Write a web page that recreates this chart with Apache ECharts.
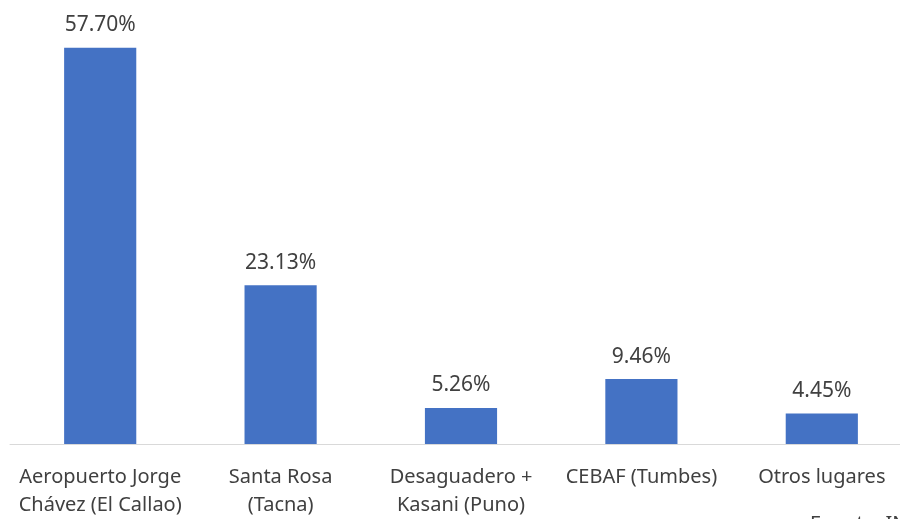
<!DOCTYPE html>
<html>
<head>
<meta charset="utf-8">
<script src="https://cdn.jsdelivr.net/npm/echarts@6/dist/echarts.min.js"></script>
<style>
  html, body { margin: 0; padding: 0; background: #fff; overflow: hidden; }
  #chart { width: 912px; height: 519px; }
</style>
</head>
<body>
<div id="chart"></div>
<script>
  // categories and shares (%)
  const categories = [
    'Aeropuerto Jorge\nChávez (El Callao)',
    'Santa Rosa\n(Tacna)',
    'Desaguadero +\nKasani (Puno)',
    'CEBAF (Tumbes)',
    'Otros lugares'
  ]
  const shares = [57.70, 23.13, 5.26, 9.46, 4.45]

  const textColor = '#404040'
  const font = 'Noto Sans'

  const chart = echarts.init(document.getElementById('chart'))
  chart.setOption({
    animation: false,
    grid: {
      left: 10,
      right: 0,
      top: 32,
      bottom: 73,
      containLabel: false
    },
    xAxis: {
      type: 'category',
      data: categories,
      axisLine: { lineStyle: { color: '#d9d9d9', width: 1 } },
      axisTick: { show: false },
      axisLabel: {
        color: textColor,
        fontFamily: font,
        fontSize: 20,
        lineHeight: 28,
        margin: 19,
        interval: 0
      }
    },
    yAxis: {
      type: 'value',
      min: 0,
      max: 60,
      show: false,
      splitLine: { show: false }
    },
    series: [{
      type: 'bar',
      data: shares,
      barWidth: '40%',
      itemStyle: { color: '#4472c4' },
      label: {
        show: true,
        position: 'top',
        distance: 12,
        color: textColor,
        fontFamily: font,
        fontSize: 21,
        formatter: p => p.value.toFixed(2) + '%'
      }
    }],
    graphic: [{
      type: 'text',
      left: 810,
      top: 514,
      style: {
        text: 'Fuente: INEI',
        fill: textColor,
        font: '20px "Noto Sans"'
      }
    }]
  })
</script>
</body>
</html>
